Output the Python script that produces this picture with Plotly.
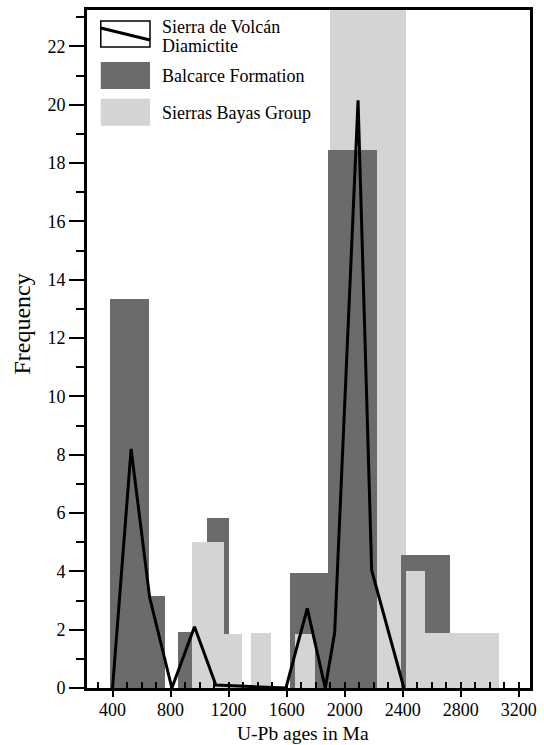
import plotly.graph_objects as go

# ---------------- data ----------------
# Balcarce Formation histogram (bin left edge, right edge in Ma, frequency)
balcarce_left = [382, 650, 852, 1048, 1626, 1886, 2386]
balcarce_right = [650, 759, 946, 1206, 1886, 2221, 2729]
balcarce_freq = [13.35, 3.15, 1.92, 5.82, 3.95, 18.45, 4.56]

# Sierras Bayas Group histogram (the tall bin drawn behind the Balcarce bars)
bayas_tall_left = [1896]
bayas_tall_right = [2422]
bayas_tall_freq = [25.0]
bayas_left = [951, 1166, 1355, 1655, 2422, 2553]
bayas_right = [1166, 1293, 1495, 1798, 2553, 3065]
bayas_freq = [5.0, 1.86, 1.88, 1.85, 4.0, 1.9]

# Sierra de Volcán Diamictite frequency curve
volcan_age = [400, 528, 656, 809, 965, 1112, 1595, 1742, 1866, 1931, 2092, 2186, 2408]
volcan_freq = [0, 8.2, 3.1, 0, 2.1, 0.1, 0, 2.73, 0, 1.9, 20.15, 4.03, 0]

x_ticks = [400, 800, 1200, 1600, 2000, 2400, 2800, 3200]
x_minor = list(range(300, 3300, 100))
y_ticks = list(range(0, 23, 2))

DARK = "#6b6b6b"
LIGHT = "#d4d4d4"
FONT = "Liberation Serif, Times New Roman, serif"

# ---------------- layout geometry (pixels) ----------------
WIDTH, HEIGHT = 544, 745
L, R, T, B = 87, 537, 9, 688
PW, PH = R - L, B - T


def px(xp):
    return (xp - L) / PW


def py(yp):
    return (B - yp) / PH


def centers(lo, hi):
    return [(a + b) / 2 for a, b in zip(lo, hi)]


def widths(lo, hi):
    return [b - a for a, b in zip(lo, hi)]


fig = go.Figure()

fig.add_trace(go.Bar(
    x=centers(bayas_tall_left, bayas_tall_right), y=bayas_tall_freq,
    width=widths(bayas_tall_left, bayas_tall_right),
    marker=dict(color=LIGHT, line=dict(width=0)), showlegend=False,
    name="Sierras Bayas Group"))
fig.add_trace(go.Bar(
    x=centers(balcarce_left, balcarce_right), y=balcarce_freq,
    width=widths(balcarce_left, balcarce_right),
    marker=dict(color=DARK, line=dict(width=0)), showlegend=False,
    name="Balcarce Formation"))
fig.add_trace(go.Bar(
    x=centers(bayas_left, bayas_right), y=bayas_freq,
    width=widths(bayas_left, bayas_right),
    marker=dict(color=LIGHT, line=dict(width=0)), showlegend=False,
    name="Sierras Bayas Group"))
fig.add_trace(go.Scatter(
    x=volcan_age, y=volcan_freq, mode="lines", xaxis="x2",
    line=dict(color="black", width=3), showlegend=False,
    name="Sierra de Volcán Diamictite", cliponaxis=False))

axis_common = dict(showgrid=False, zeroline=False, showline=True, linecolor="black",
                   linewidth=3, mirror=True,
                   tickfont=dict(family=FONT, size=18, color="black"))

fig.update_layout(
    width=WIDTH, height=HEIGHT,
    margin=dict(l=L, r=WIDTH - R, t=T, b=HEIGHT - B),
    paper_bgcolor="white", plot_bgcolor="white",
    barmode="overlay", bargap=0,
    xaxis=dict(range=[224, 3277], tickmode="array", tickvals=x_ticks,
               ticks="outside", ticklen=6, tickwidth=2, tickcolor="black",
               ticklabelstandoff=-3,
               **axis_common),
    xaxis2=dict(overlaying="x", matches="x", anchor="y", side="bottom",
                tickmode="array", tickvals=x_minor, ticks="inside", ticklen=6,
                tickwidth=2, tickcolor="black", showticklabels=False,
                showline=False, showgrid=False, zeroline=False),
    yaxis=dict(range=[0, 23.25], tickmode="array", tickvals=y_ticks,
               ticks="outside", ticklen=15, tickwidth=2, tickcolor="black",
               minor=dict(dtick=1, ticks="outside", ticklen=8, tickwidth=2,
                          tickcolor="black"),
               **axis_common),
    showlegend=False,
)

# axis titles
fig.add_annotation(text="U-Pb ages in Ma", xref="paper", yref="paper",
                   x=px(306), y=py(734), showarrow=False,
                   font=dict(family=FONT, size=19.5, color="black"),
                   xanchor="center", yanchor="middle")
fig.add_annotation(text="Frequency", xref="paper", yref="paper",
                   x=px(21), y=py(324), showarrow=False, textangle=-90,
                   font=dict(family=FONT, size=24, color="black"),
                   xanchor="center", yanchor="middle")

# legend (drawn manually to match the large swatches)
fig.add_shape(type="rect", xref="paper", yref="paper",
              x0=px(101), x1=px(151), y0=py(20), y1=py(46),
              fillcolor="white", line=dict(color="black", width=1.5))
fig.add_shape(type="line", xref="paper", yref="paper",
              x0=px(101), x1=px(151), y0=py(27), y1=py(39),
              line=dict(color="black", width=3))
fig.add_shape(type="rect", xref="paper", yref="paper",
              x0=px(101), x1=px(151), y0=py(61), y1=py(88),
              fillcolor=DARK, line=dict(width=0))
fig.add_shape(type="rect", xref="paper", yref="paper",
              x0=px(101), x1=px(151), y0=py(98), y1=py(125),
              fillcolor=LIGHT, line=dict(width=0))

legend_text = [("Sierra de Volcán", 26), ("Diamictite", 45),
               ("Balcarce Formation", 75), ("Sierras Bayas Group", 112)]
for txt, yy in legend_text:
    fig.add_annotation(text=txt, xref="paper", yref="paper", x=px(161), y=py(yy),
                       showarrow=False, xanchor="left", yanchor="middle",
                       font=dict(family=FONT, size=18, color="black"))

fig.write_html("out.html")
